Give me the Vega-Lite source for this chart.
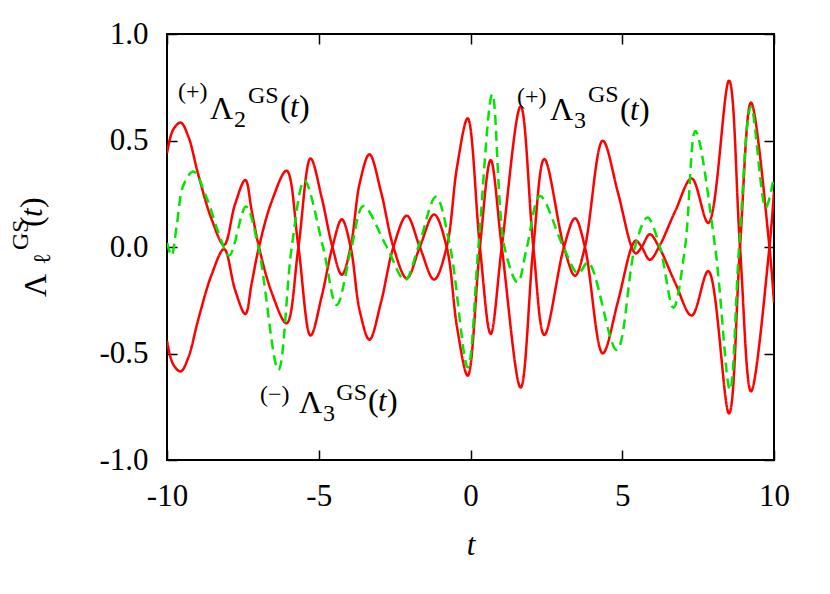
{
  "$schema": "https://vega.github.io/schema/vega-lite/v6.json",
  "width": 607,
  "height": 426,
  "autosize": {"type": "none"},
  "padding": {"left": 167, "top": 34, "right": 56, "bottom": 134},
  "background": "white",
  "config": {"view": {"stroke": "black", "strokeWidth": 2}, "axis": {"grid": false}, "font": "Liberation Serif, Times New Roman, DejaVu Serif, serif"},
  "resolve": {"axis": {"x": "independent", "y": "independent"}},
  "datasets": {
    "curves": [
      {"series": "A", "t": -10, "v": 0.44}, {"series": "A", "t": -9.8, "v": 0.55}, {"series": "A", "t": -9.55, "v": 0.584}, {"series": "A", "t": -9.3, "v": 0.52}, {"series": "A", "t": -8.97, "v": 0.34}, {"series": "A", "t": -8.53, "v": 0.13}, {"series": "A", "t": -8.12, "v": 0.01}, {"series": "A", "t": -7.76, "v": 0.2}, {"series": "A", "t": -7.42, "v": 0.315}, {"series": "A", "t": -7.21, "v": 0.17}, {"series": "A", "t": -6.97, "v": 0.0}, {"series": "A", "t": -6.56, "v": -0.21}, {"series": "A", "t": -6.06, "v": -0.358}, {"series": "A", "t": -5.67, "v": 0.0}, {"series": "A", "t": -5.27, "v": 0.416}, {"series": "A", "t": -4.9, "v": 0.23}, {"series": "A", "t": -4.55, "v": 0.0}, {"series": "A", "t": -4.24, "v": -0.13}, {"series": "A", "t": -3.95, "v": 0.0}, {"series": "A", "t": -3.65, "v": 0.3}, {"series": "A", "t": -3.33, "v": 0.435}, {"series": "A", "t": -2.95, "v": 0.26}, {"series": "A", "t": -2.54, "v": 0.0}, {"series": "A", "t": -2.1, "v": -0.147}, {"series": "A", "t": -1.67, "v": 0.0}, {"series": "A", "t": -1.2, "v": 0.153}, {"series": "A", "t": -0.785, "v": 0.0}, {"series": "A", "t": -0.44, "v": -0.38}, {"series": "A", "t": -0.093, "v": -0.604}, {"series": "A", "t": 0.31, "v": 0.0}, {"series": "A", "t": 0.664, "v": 0.408}, {"series": "A", "t": 1.03, "v": 0.0}, {"series": "A", "t": 1.653, "v": -0.66}, {"series": "A", "t": 2.07, "v": 0.0}, {"series": "A", "t": 2.433, "v": 0.413}, {"series": "A", "t": 3.08, "v": 0.0}, {"series": "A", "t": 3.443, "v": -0.135}, {"series": "A", "t": 3.77, "v": 0.0}, {"series": "A", "t": 4.355, "v": 0.499}, {"series": "A", "t": 4.85, "v": 0.26}, {"series": "A", "t": 5.31, "v": 0.0}, {"series": "A", "t": 5.45, "v": -0.03}, {"series": "A", "t": 5.64, "v": 0.0}, {"series": "A", "t": 5.91, "v": 0.06}, {"series": "A", "t": 6.21, "v": 0.0}, {"series": "A", "t": 6.75, "v": -0.17}, {"series": "A", "t": 7.287, "v": -0.322}, {"series": "A", "t": 7.836, "v": -0.113}, {"series": "A", "t": 8.517, "v": -0.781}, {"series": "A", "t": 8.88, "v": 0.0}, {"series": "A", "t": 9.242, "v": 0.678}, {"series": "A", "t": 9.85, "v": 0.0}, {"series": "A", "t": 10, "v": -0.26},
      {"series": "B", "t": -10, "v": -0.44}, {"series": "B", "t": -9.8, "v": -0.55}, {"series": "B", "t": -9.55, "v": -0.584}, {"series": "B", "t": -9.3, "v": -0.52}, {"series": "B", "t": -8.97, "v": -0.34}, {"series": "B", "t": -8.53, "v": -0.13}, {"series": "B", "t": -8.12, "v": -0.01}, {"series": "B", "t": -7.76, "v": -0.2}, {"series": "B", "t": -7.42, "v": -0.315}, {"series": "B", "t": -7.21, "v": -0.17}, {"series": "B", "t": -6.97, "v": 0.0}, {"series": "B", "t": -6.56, "v": 0.21}, {"series": "B", "t": -6.06, "v": 0.358}, {"series": "B", "t": -5.67, "v": 0.0}, {"series": "B", "t": -5.27, "v": -0.416}, {"series": "B", "t": -4.9, "v": -0.23}, {"series": "B", "t": -4.55, "v": 0.0}, {"series": "B", "t": -4.24, "v": 0.13}, {"series": "B", "t": -3.95, "v": 0.0}, {"series": "B", "t": -3.65, "v": -0.3}, {"series": "B", "t": -3.33, "v": -0.435}, {"series": "B", "t": -2.95, "v": -0.26}, {"series": "B", "t": -2.54, "v": 0.0}, {"series": "B", "t": -2.1, "v": 0.147}, {"series": "B", "t": -1.67, "v": 0.0}, {"series": "B", "t": -1.2, "v": -0.153}, {"series": "B", "t": -0.785, "v": 0.0}, {"series": "B", "t": -0.44, "v": 0.38}, {"series": "B", "t": -0.093, "v": 0.604}, {"series": "B", "t": 0.31, "v": 0.0}, {"series": "B", "t": 0.664, "v": -0.408}, {"series": "B", "t": 1.03, "v": 0.0}, {"series": "B", "t": 1.653, "v": 0.66}, {"series": "B", "t": 2.07, "v": 0.0}, {"series": "B", "t": 2.433, "v": -0.413}, {"series": "B", "t": 3.08, "v": 0.0}, {"series": "B", "t": 3.443, "v": 0.135}, {"series": "B", "t": 3.77, "v": 0.0}, {"series": "B", "t": 4.355, "v": -0.499}, {"series": "B", "t": 4.85, "v": -0.26}, {"series": "B", "t": 5.31, "v": 0.0}, {"series": "B", "t": 5.45, "v": 0.03}, {"series": "B", "t": 5.64, "v": 0.0}, {"series": "B", "t": 5.91, "v": -0.06}, {"series": "B", "t": 6.21, "v": 0.0}, {"series": "B", "t": 6.75, "v": 0.17}, {"series": "B", "t": 7.287, "v": 0.322}, {"series": "B", "t": 7.836, "v": 0.113}, {"series": "B", "t": 8.517, "v": 0.781}, {"series": "B", "t": 8.88, "v": 0.0}, {"series": "B", "t": 9.242, "v": -0.678}, {"series": "B", "t": 9.85, "v": 0.0}, {"series": "B", "t": 10, "v": 0.26},
      {"series": "G", "t": -10, "v": 0.02}, {"series": "G", "t": -9.85, "v": -0.04}, {"series": "G", "t": -9.68, "v": 0.1}, {"series": "G", "t": -9.46, "v": 0.29}, {"series": "G", "t": -9.13, "v": 0.354}, {"series": "G", "t": -8.69, "v": 0.23}, {"series": "G", "t": -8.31, "v": 0.07}, {"series": "G", "t": -7.95, "v": -0.04}, {"series": "G", "t": -7.4, "v": 0.19}, {"series": "G", "t": -6.99, "v": 0.0}, {"series": "G", "t": -6.33, "v": -0.577}, {"series": "G", "t": -5.89, "v": 0.0}, {"series": "G", "t": -5.47, "v": 0.311}, {"series": "G", "t": -4.86, "v": 0.0}, {"series": "G", "t": -4.41, "v": -0.272}, {"series": "G", "t": -3.92, "v": 0.0}, {"series": "G", "t": -3.53, "v": 0.192}, {"series": "G", "t": -2.76, "v": 0.0}, {"series": "G", "t": -2.16, "v": -0.155}, {"series": "G", "t": -1.72, "v": 0.0}, {"series": "G", "t": -1.14, "v": 0.236}, {"series": "G", "t": -0.67, "v": 0.0}, {"series": "G", "t": -0.09, "v": -0.565}, {"series": "G", "t": 0.26, "v": 0.0}, {"series": "G", "t": 0.719, "v": 0.717}, {"series": "G", "t": 1.12, "v": 0.0}, {"series": "G", "t": 1.553, "v": -0.166}, {"series": "G", "t": 1.86, "v": 0.0}, {"series": "G", "t": 2.29, "v": 0.239}, {"series": "G", "t": 3.06, "v": 0.0}, {"series": "G", "t": 3.55, "v": -0.124}, {"series": "G", "t": 3.88, "v": -0.072}, {"series": "G", "t": 4.817, "v": -0.484}, {"series": "G", "t": 5.42, "v": 0.0}, {"series": "G", "t": 5.827, "v": 0.138}, {"series": "G", "t": 6.24, "v": 0.0}, {"series": "G", "t": 6.683, "v": -0.285}, {"series": "G", "t": 7.07, "v": 0.0}, {"series": "G", "t": 7.41, "v": 0.545}, {"series": "G", "t": 8.06, "v": 0.0}, {"series": "G", "t": 8.55, "v": -0.671}, {"series": "G", "t": 8.85, "v": 0.0}, {"series": "G", "t": 9.242, "v": 0.659}, {"series": "G", "t": 9.726, "v": 0.185}, {"series": "G", "t": 10, "v": 0.33}
    ],
    "bigTxt": [
      {"t": -8.583, "v": 0.601, "txt": "Λ"}, {"t": -6.277, "v": 0.61, "txt": "("}, {"t": -5.651, "v": 0.61, "txt": ")"},
      {"t": 2.619, "v": 0.596, "txt": "Λ"}, {"t": 4.926, "v": 0.596, "txt": "("}, {"t": 5.552, "v": 0.596, "txt": ")"},
      {"t": -5.651, "v": -0.779, "txt": "Λ"}, {"t": -3.377, "v": -0.77, "txt": "("}, {"t": -2.751, "v": -0.77, "txt": ")"}
    ],
    "italTxt": [
      {"t": -5.947, "v": 0.61, "txt": "t"}, {"t": 5.255, "v": 0.596, "txt": "t"}, {"t": -3.048, "v": -0.77, "txt": "t"}
    ],
    "smallTxt": [
      {"t": -9.638, "v": 0.695, "txt": "(+)"}, {"t": -7.79, "v": 0.563, "txt": "2"}, {"t": -7.33, "v": 0.676, "txt": "GS"},
      {"t": 1.532, "v": 0.671, "txt": "(+)"}, {"t": 3.41, "v": 0.559, "txt": "3"}, {"t": 3.87, "v": 0.681, "txt": "GS"},
      {"t": -6.936, "v": -0.728, "txt": "(−)"}, {"t": -4.86, "v": -0.817, "txt": "3"}, {"t": -4.42, "v": -0.718, "txt": "GS"}
    ],
    "yBig": [
      {"t": -13.99, "v": -0.235, "txt": "Λ"}, {"t": -14.12, "v": 0.094, "txt": "("}, {"t": -14.12, "v": 0.183, "txt": ")"}
    ],
    "yItal": [
      {"t": -14.12, "v": 0.141, "txt": "t"}
    ],
    "ySmall": [
      {"t": -13.855, "v": -0.085, "txt": "ℓ"}, {"t": -14.58, "v": -0.014, "txt": "GS"}
    ]
  },
  "layer": [
    {
      "data": {"name": "curves"},
      "mark": {"type": "line", "interpolate": "catmull-rom", "strokeWidth": 2.5, "clip": true},
      "encoding": {
        "x": {"field": "t", "type": "quantitative", "scale": {"domain": [-10, 10], "nice": false, "zero": false},
          "axis": {"orient": "bottom", "values": [-10, -5, 0, 5, 10], "domain": false, "tickSize": -10, "tickColor": "black", "tickWidth": 1.5,
            "labelFont": "Liberation Serif, Times New Roman, DejaVu Serif, serif", "labelFontSize": 31, "labelColor": "black", "labelPadding": 31, "labelFlush": false,
            "labelExpr": "replace(datum.label, '−', '-')",
            "title": "t", "titleFont": "Liberation Serif, Times New Roman, DejaVu Serif, serif", "titleFontSize": 31, "titleFontStyle": "italic", "titleFontWeight": "normal", "titleColor": "black", "titlePadding": 19}},
        "y": {"field": "v", "type": "quantitative", "scale": {"domain": [-1, 1], "nice": false, "zero": false},
          "axis": {"orient": "left", "values": [-1, -0.5, 0, 0.5, 1], "format": ".1f", "domain": false, "tickSize": -10, "tickColor": "black", "tickWidth": 1.5,
            "labelFont": "Liberation Serif, Times New Roman, DejaVu Serif, serif", "labelFontSize": 31, "labelColor": "black", "labelPadding": 29, "labelFlush": false,
            "labelExpr": "replace(datum.label, '−', '-')", "title": null}},
        "color": {"field": "series", "type": "nominal", "scale": {"domain": ["A", "B", "G"], "range": ["#ff0000", "#ff0000", "#00e600"]}, "legend": null},
        "strokeDash": {"field": "series", "type": "nominal", "scale": {"domain": ["A", "B", "G"], "range": [[1, 0], [1, 0], [10, 6]]}, "legend": null}
      }
    },
    {
      "data": {"name": "smallTxt"},
      "mark": {"type": "text", "font": "Liberation Serif, Times New Roman, DejaVu Serif, serif", "fontSize": 24, "align": "left", "baseline": "alphabetic", "color": "black"},
      "encoding": {
        "x": {"field": "t", "type": "quantitative", "axis": {"orient": "top", "labels": false, "domain": false, "tickSize": -10, "tickColor": "black", "tickWidth": 1.5, "values": [-10, -5, 0, 5, 10], "title": null}},
        "y": {"field": "v", "type": "quantitative", "axis": {"orient": "right", "labels": false, "domain": false, "tickSize": -10, "tickColor": "black", "tickWidth": 1.5, "values": [-1, -0.5, 0, 0.5, 1], "title": null}},
        "text": {"field": "txt"}
      }
    },
    {
      "data": {"name": "bigTxt"},
      "mark": {"type": "text", "font": "Liberation Serif, Times New Roman, DejaVu Serif, serif", "fontSize": 32, "align": "left", "baseline": "alphabetic", "color": "black"},
      "encoding": {
        "x": {"field": "t", "type": "quantitative", "axis": null},
        "y": {"field": "v", "type": "quantitative", "axis": null},
        "text": {"field": "txt"}
      }
    },
    {
      "data": {"name": "italTxt"},
      "mark": {"type": "text", "font": "Liberation Serif, Times New Roman, DejaVu Serif, serif", "fontSize": 31, "fontStyle": "italic", "align": "left", "baseline": "alphabetic", "color": "black"},
      "encoding": {
        "x": {"field": "t", "type": "quantitative", "axis": null},
        "y": {"field": "v", "type": "quantitative", "axis": null},
        "text": {"field": "txt"}
      }
    },
    {
      "data": {"name": "yBig"},
      "mark": {"type": "text", "font": "Liberation Serif, Times New Roman, DejaVu Serif, serif", "fontSize": 32, "angle": 270, "align": "left", "baseline": "alphabetic", "color": "black"},
      "encoding": {
        "x": {"field": "t", "type": "quantitative", "axis": null},
        "y": {"field": "v", "type": "quantitative", "axis": null},
        "text": {"field": "txt"}
      }
    },
    {
      "data": {"name": "yItal"},
      "mark": {"type": "text", "font": "Liberation Serif, Times New Roman, DejaVu Serif, serif", "fontSize": 31, "fontStyle": "italic", "angle": 270, "align": "left", "baseline": "alphabetic", "color": "black"},
      "encoding": {
        "x": {"field": "t", "type": "quantitative", "axis": null},
        "y": {"field": "v", "type": "quantitative", "axis": null},
        "text": {"field": "txt"}
      }
    },
    {
      "data": {"name": "ySmall"},
      "mark": {"type": "text", "font": "Liberation Serif, Times New Roman, DejaVu Serif, serif", "fontSize": 24, "angle": 270, "align": "left", "baseline": "alphabetic", "color": "black"},
      "encoding": {
        "x": {"field": "t", "type": "quantitative", "axis": null},
        "y": {"field": "v", "type": "quantitative", "axis": null},
        "text": {"field": "txt"}
      }
    }
  ]
}
